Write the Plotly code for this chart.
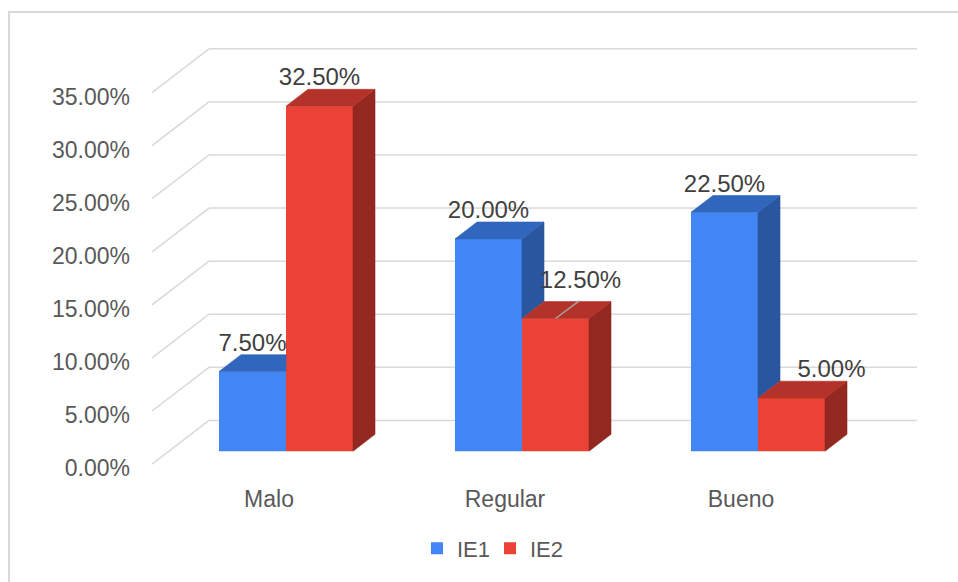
import plotly.graph_objects as go

# ---------------- data ----------------
categories = ["Malo", "Regular", "Bueno"]
series_names = ["IE1", "IE2"]
ie1_values = [7.5, 20.0, 22.5]
ie2_values = [32.5, 12.5, 5.0]
y_ticks = [0, 5, 10, 15, 20, 25, 30, 35]
y_tick_labels = [f"{t:.2f}%" for t in y_ticks]

# ---------------- styling / geometry constants ----------------
W, H = 958, 582
PLOT_L, PLOT_R, PLOT_T, PLOT_B = 145, 930, 30, 480
PX_X = 236.0            # pixels per category step
PX_Y = 374.0 / 35       # pixels per percent
ORIGIN_X_PX, ORIGIN_Y_PX = 269, 467


def dxu(px):
    return px / PX_X


def dyu(px):
    return px / PX_Y


WALL = (dxu(57), dyu(44))     # depth of back wall
FRONT = (dxu(17), dyu(13))    # depth of bar front faces
DEPTH = (dxu(22), dyu(17))    # depth of each bar
BAR_W = dxu(67)
GRID_X0 = dxu(152 - ORIGIN_X_PX)
GRID_X1 = dxu(917 - 57 - ORIGIN_X_PX)

FRONT_COL = ["#4285F4", "#EA4335"]
TOP_COL = ["#3166BD", "#B3322A"]
SIDE_COL = ["#2A559F", "#92281F"]
GRID_COL = "#D9D9D9"
AXIS_TXT = "#595959"
LABEL_TXT = "#404040"
FONT = "Liberation Sans, Arial, sans-serif"
LABEL_GAP_PX = 27
LABEL_SHIFT_PX = {(1, 1): (25, 10), (1, 2): (40, 0)}
LEADER = {(1, 1): (24, 18)}

series_values = [ie1_values, ie2_values]

fig = go.Figure()

# front faces as bars
for s, name in enumerate(series_names):
    off = -BAR_W / 2 if s == 0 else BAR_W / 2
    fig.add_trace(go.Bar(
        x=[i + off + FRONT[0] for i in range(len(categories))],
        y=series_values[s],
        base=FRONT[1],
        width=BAR_W,
        name=name,
        marker=dict(color=FRONT_COL[s], line=dict(width=0)),
        hoverinfo="skip",
    ))


def poly(xs, ys, color):
    fig.add_trace(go.Scatter(
        x=xs + [xs[0]], y=ys + [ys[0]], mode="lines", fill="toself",
        fillcolor=color, line=dict(color=color, width=0.6),
        showlegend=False, hoverinfo="skip"))


DX, DY = DEPTH
for i in range(len(categories)):
    b, r = ie1_values[i], ie2_values[i]
    xl = i - BAR_W + FRONT[0]
    xm = i + FRONT[0]
    xr = i + BAR_W + FRONT[0]
    bt, rt, base = b + FRONT[1], r + FRONT[1], FRONT[1]
    # blue side (only part visible above red bar)
    if bt > rt:
        poly([xm, xm + DX, xm + DX, xm], [bt, bt + DY, rt + DY, rt], SIDE_COL[0])
    # blue top
    if rt >= bt + DY:
        poly([xl, xm, xm, xl + DX], [bt, bt, bt + DY, bt + DY], TOP_COL[0])
    else:
        poly([xl, xm, xm + DX, xl + DX], [bt, bt, bt + DY, bt + DY], TOP_COL[0])
    # red side
    poly([xr, xr + DX, xr + DX, xr], [rt, rt + DY, base + DY, base], SIDE_COL[1])
    # red top
    poly([xm, xr, xr + DX, xm + DX], [rt, rt, rt + DY, rt + DY], TOP_COL[1])

# data labels
for s in range(2):
    off = -BAR_W / 2 if s == 0 else BAR_W / 2
    for i, v in enumerate(series_values[s]):
        cx = i + off + FRONT[0]
        top = v + FRONT[1]
        sx, sy = LABEL_SHIFT_PX.get((s, i), (0, 0))
        if (s, i) in LEADER:
            lx, ly = LEADER[(s, i)]
            fig.add_trace(go.Scatter(
                x=[cx, cx + dxu(lx)], y=[top, top + dyu(ly)], mode="lines",
                line=dict(color="#A6A6A6", width=1.5), showlegend=False,
                hoverinfo="skip"))
        fig.add_trace(go.Scatter(
            x=[cx + dxu(sx)], y=[top + dyu(LABEL_GAP_PX + sy)],
            mode="text", text=[f"{v:.2f}%"], textposition="middle center",
            textfont=dict(size=24, color=LABEL_TXT, family=FONT),
            showlegend=False, hoverinfo="skip", cliponaxis=False))

# back wall gridlines (below traces)
shapes = []
for t in y_ticks:
    shapes.append(dict(type="line", xref="x", yref="y", layer="below",
                       x0=GRID_X0, y0=t, x1=GRID_X0 + WALL[0], y1=t + WALL[1],
                       line=dict(color=GRID_COL, width=1.5)))
    shapes.append(dict(type="line", xref="x", yref="y", layer="below",
                       x0=GRID_X0 + WALL[0], y0=t + WALL[1],
                       x1=GRID_X1 + WALL[0], y1=t + WALL[1],
                       line=dict(color=GRID_COL, width=1.5)))

pw = PLOT_R - PLOT_L
ph = PLOT_B - PLOT_T
shapes.append(dict(type="rect", xref="paper", yref="paper", layer="below",
                   x0=(9 - PLOT_L) / pw, x1=(W + 20 - PLOT_L) / pw,
                   y0=-(H + 20 - PLOT_B) / ph, y1=(PLOT_B - 12) / ph,
                   line=dict(color=GRID_COL, width=2), fillcolor="rgba(0,0,0,0)"))

fig.update_layout(
    width=W, height=H,
    margin=dict(l=PLOT_L, r=W - PLOT_R, t=PLOT_T, b=H - PLOT_B, pad=0),
    paper_bgcolor="white", plot_bgcolor="white",
    barmode="overlay",
    font=dict(family=FONT, color=AXIS_TXT),
    shapes=shapes,
    xaxis=dict(range=[dxu(PLOT_L - ORIGIN_X_PX), dxu(PLOT_R - ORIGIN_X_PX)],
               tickvals=list(range(len(categories))), ticktext=categories,
               showgrid=False, zeroline=False, showline=False, ticks="",
               tickfont=dict(size=23, color=AXIS_TXT, family=FONT),
               ticklabelstandoff=6, fixedrange=True),
    yaxis=dict(range=[-dyu(PLOT_B - ORIGIN_Y_PX), dyu(ORIGIN_Y_PX - PLOT_T)],
               tickvals=y_ticks, ticktext=y_tick_labels,
               showgrid=False, zeroline=False, showline=False, ticks="",
               tickfont=dict(size=23, color=AXIS_TXT, family=FONT),
               ticklabelstandoff=14, ticklabelshift=4, fixedrange=True),
    legend=dict(orientation="h", x=(417 - PLOT_L) / pw, xanchor="left",
                y=-(552 - PLOT_B) / ph, yanchor="middle",
                entrywidth=28, entrywidthmode="pixels",
                font=dict(size=22, color=AXIS_TXT, family=FONT),
                bgcolor="rgba(0,0,0,0)"),
    showlegend=True,
)

fig.write_html("out.html")
